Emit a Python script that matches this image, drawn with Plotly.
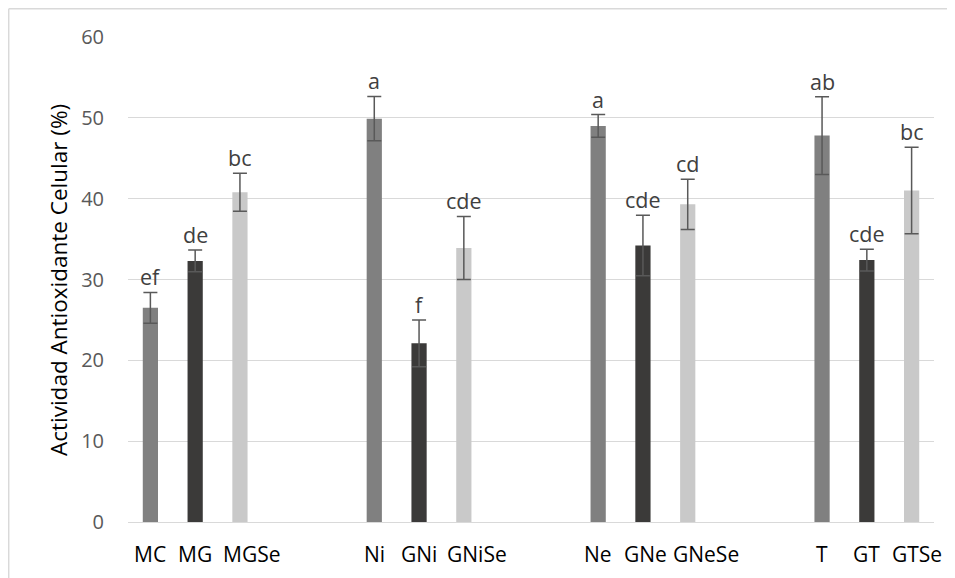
import plotly.graph_objects as go

# ---- data ----
categories = ["MC", "MG", "MGSe", " ", "  ",
              "Ni", "GNi", "GNiSe", "   ", "    ",
              "Ne", "GNe", "GNeSe", "     ", "      ",
              "T", "GT", "GTSe"]
bar_labels = ["MC", "MG", "MGSe", "Ni", "GNi", "GNiSe",
              "Ne", "GNe", "GNeSe", "T", "GT", "GTSe"]
values = [26.5, 32.3, 40.8, 49.9, 22.1, 33.9,
          49.0, 34.2, 39.3, 47.8, 32.4, 41.0]
errors = [1.9, 1.35, 2.35, 2.75, 2.9, 3.9,
          1.4, 3.75, 3.1, 4.8, 1.35, 5.35]
letters = ["ef", "de", "bc", "a", "f", "cde",
           "a", "cde", "cd", "ab", "cde", "bc"]
kinds = ["base", "G", "GSe"] * 4
y_ticks = [0, 10, 20, 30, 40, 50, 60]
y_title = "Actividad Antioxidante Celular (%)"

# ---- style ----
kind_colors = {"base": "#808080", "G": "#3b3a39", "GSe": "#c9c9c9"}
FONT = "Open Sans"
# in the original, some category labels sit slightly right of their bar (px)
label_shift = {"MGSe": 12, "GNiSe": 13, "GNeSe": 18, "GTSe": 5.5, "GNe": 3}

fig = go.Figure()
fig.add_trace(go.Bar(
    x=bar_labels, y=values,
    width=0.34,
    marker=dict(color=[kind_colors[k] for k in kinds], line=dict(width=0)),
    error_y=dict(type="data", array=errors, visible=True,
                 color="#595959", thickness=1.5, width=7),
    hoverinfo="x+y",
))

for lab, v, e, t in zip(bar_labels, values, errors, letters):
    fig.add_annotation(x=lab, y=v + e, text=t, showarrow=False,
                       yanchor="bottom", yshift=-1,
                       font=dict(family=FONT, size=21.5, color="#404040"))

# category labels (drawn as annotations so they can be nudged like the original)
for lab in bar_labels:
    fig.add_annotation(x=lab, xref="x", y=0, yref="paper", text=lab, showarrow=False,
                       yanchor="middle", yshift=-32, xshift=label_shift.get(lab, 0),
                       font=dict(family=FONT, size=21, color="#000000"))

# page has an 8px body margin; the figure sits at (8, 8)
OFF = 8
W, H = 955 - OFF, 578 - OFF
L, R, T, B = 128 - OFF, 955 - 934, 37 - OFF, 578 - 522
pw, ph = W - L - R, H - T - B

def page_to_paper(px, py):
    return (px - OFF - L) / pw, (H - B - (py - OFF)) / ph

# y axis title as annotation
tx, ty = page_to_paper(58, 280)
fig.add_annotation(xref="paper", yref="paper", x=tx, y=ty, text=y_title,
                   textangle=-90, showarrow=False, xanchor="center", yanchor="middle",
                   font=dict(family=FONT, size=22.5, color="#000000"))

# outer chart border (cropped at right/bottom)
x0, y0 = page_to_paper(8.7, 8.7)
x1, _ = page_to_paper(980, 0)
_, y1 = page_to_paper(0, 600)
fig.add_shape(type="line", xref="paper", yref="paper", x0=x0, y0=y0, x1=x1, y1=y0,
              line=dict(color="#d9d9d9", width=1.5))
fig.add_shape(type="line", xref="paper", yref="paper", x0=x0, y0=y0, x1=x0, y1=y1,
              line=dict(color="#d9d9d9", width=1.5))

fig.update_layout(
    width=W, height=H,
    margin=dict(l=L, r=R, t=T, b=B),
    paper_bgcolor="white", plot_bgcolor="white",
    showlegend=False,
    font=dict(family=FONT),
    xaxis=dict(type="category", categoryorder="array", categoryarray=categories,
               range=[-0.5, len(categories) - 0.5],
               showticklabels=False,
               showgrid=False, showline=False, zeroline=False, ticks=""),
    yaxis=dict(range=[0, 60], tickvals=y_ticks, showgrid=True,
               gridcolor="#d9d9d9", gridwidth=1.3, zeroline=True,
               zerolinecolor="#d9d9d9", zerolinewidth=1.3, showline=False, ticks="",
               tickfont=dict(family=FONT, size=20, color="#595959"),
               ticklabelstandoff=23),
)

fig.write_html("out.html")
